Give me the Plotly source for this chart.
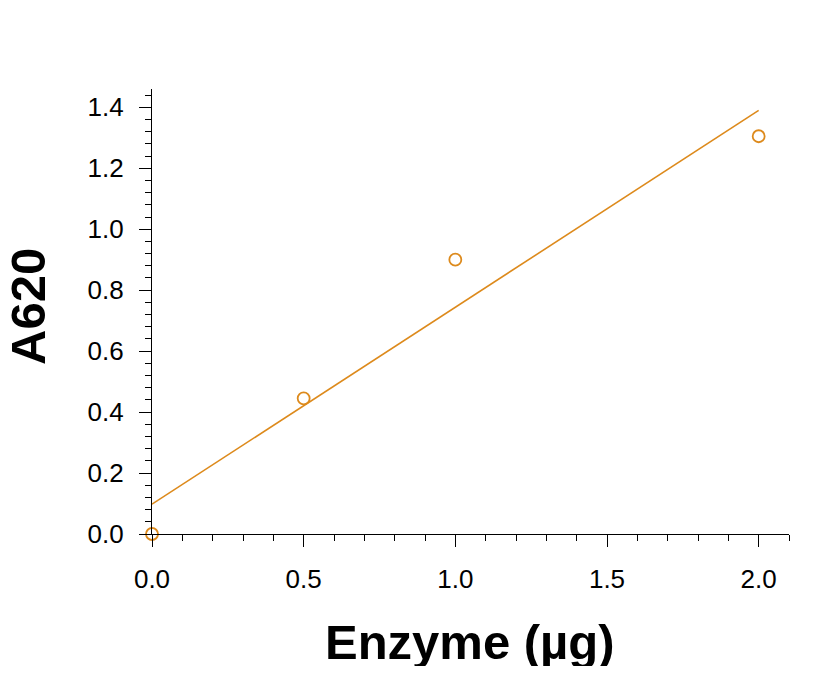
import plotly.graph_objects as go

# measured points
enzyme_ug = [0.0, 0.5, 1.0, 2.0]
a620 = [0.0, 0.445, 0.90, 1.305]

# linear fit line, end points
fit_x = [0.0, 2.0]
fit_y = [0.098, 1.39]

x_ticks = [0.0, 0.5, 1.0, 1.5, 2.0]
y_ticks = [0.0, 0.2, 0.4, 0.6, 0.8, 1.0, 1.2, 1.4]

orange = "#DD8A1C"
font = "Liberation Sans, Arial, sans-serif"

fig = go.Figure()
fig.add_trace(go.Scatter(
    x=fit_x, y=fit_y, mode="lines",
    line=dict(color=orange, width=1.6),
    showlegend=False, hoverinfo="skip",
))
fig.add_trace(go.Scatter(
    x=enzyme_ug, y=a620, mode="markers",
    marker=dict(symbol="circle-open", size=12, color=orange, line=dict(width=1.8, color=orange)),
    showlegend=False, cliponaxis=False,
))

# page body adds 8px, so the figure is a bit smaller than the window
fig.update_layout(
    width=812, height=658,
    margin=dict(l=144, r=31, t=81, b=132),
    plot_bgcolor="white", paper_bgcolor="white",
    font=dict(family=font, color="black"),
)

fig.update_xaxes(
    range=[0, 2.1], tickvals=x_ticks, ticktext=[f"{v:.1f}" for v in x_ticks],
    showline=True, linecolor="black", linewidth=1.3, showgrid=False, zeroline=False,
    ticks="outside", ticklen=12, tickwidth=1.3, tickcolor="black",
    tickfont=dict(size=26, family=font), ticklabelstandoff=10,
    minor=dict(dtick=0.1, tick0=0, ticks="outside", ticklen=6, tickwidth=1.1, tickcolor="black", showgrid=False),
)
fig.update_yaxes(
    range=[0, 1.46], tickvals=y_ticks, ticktext=[f"{v:.1f}" for v in y_ticks],
    showline=True, linecolor="black", linewidth=1.3, showgrid=False, zeroline=False,
    ticks="outside", ticklen=12, tickwidth=1.3, tickcolor="black",
    tickfont=dict(size=26, family=font), ticklabelstandoff=10,
    minor=dict(dtick=0.04, tick0=0, ticks="outside", ticklen=6, tickwidth=1.1, tickcolor="black", showgrid=False),
)

fig.add_annotation(
    text="<b>Enzyme (µg)</b>", xref="paper", yref="paper", x=0.499, y=-0.243,
    xanchor="center", yanchor="middle", showarrow=False,
    font=dict(size=49, family=font, color="black"),
)
fig.add_annotation(
    text="<b>A620</b>", xref="paper", yref="paper", x=-0.195, y=0.512,
    xanchor="center", yanchor="middle", showarrow=False, textangle=-90,
    font=dict(size=49, family=font, color="black"),
)

fig.write_html("out.html")
